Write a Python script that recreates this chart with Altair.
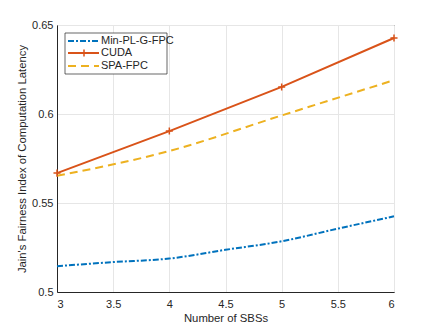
import altair as alt
import pandas as pd

# Data
min_x = [3, 3.5, 4, 4.5, 5, 5.5, 6]
min_y = [0.5145, 0.5168, 0.5188, 0.5237, 0.5285, 0.5356, 0.5425]
cuda_x = [3, 4, 5, 6]
cuda_y = [0.5668, 0.5904, 0.6152, 0.6427]
spa_x = [3, 4, 5, 6]
spa_y = [0.5653, 0.5792, 0.5992, 0.6190]

series = ["Min-PL-G-FPC", "CUDA", "SPA-FPC"]
colors = ["#0072BD", "#D95319", "#EDB120"]
x_ticks = [3, 3.5, 4, 4.5, 5, 5.5, 6]
y_ticks = [0.5, 0.55, 0.6, 0.65]

FONT = "Liberation Sans"
TXT = "#262626"

df_min = pd.DataFrame({"x": min_x, "y": min_y})
df_cuda = pd.DataFrame({"x": cuda_x, "y": cuda_y})
df_spa = pd.DataFrame({"x": spa_x, "y": spa_y})

xs = alt.Scale(domain=[3, 6], nice=False, zero=False)
ys = alt.Scale(domain=[0.5, 0.65], nice=False, zero=False)

xenc = alt.X("x:Q", scale=xs, title="Number of SBSs",
             axis=alt.Axis(values=x_ticks, format="~g", grid=True))
yenc = alt.Y("y:Q", scale=ys, title="Jain's Fairness Index of Computation Latency",
             axis=alt.Axis(values=y_ticks, format="~g", grid=True))

plus_path = "M-1,0L1,0M0,-1L0,1"

l_min = alt.Chart(df_min).mark_line(
    color=colors[0], strokeWidth=2, strokeDash=[6, 2, 2, 2], interpolate="monotone"
).encode(x=xenc, y=yenc)

l_spa = alt.Chart(df_spa).mark_line(
    color=colors[2], strokeWidth=2, strokeDash=[8, 5], interpolate="monotone"
).encode(x=xenc, y=yenc)

l_cuda = alt.Chart(df_cuda).mark_line(
    color=colors[1], strokeWidth=2
).encode(x=xenc, y=yenc)

p_cuda = alt.Chart(df_cuda).mark_point(
    shape=plus_path, color=colors[1], filled=False, strokeWidth=1.5, size=50, opacity=1
).encode(x=xenc, y=yenc)

# Legend (drawn manually inside the plot, top-left)
leg_df = pd.DataFrame({"s": [0]})
box = alt.Chart(leg_df).mark_rect(fill="white", stroke=TXT, strokeWidth=0.7).encode(
    x=alt.value(8), x2=alt.value(110), y=alt.value(8), y2=alt.value(49))

rows = [16, 28, 41]
dashes = [[6, 2, 2, 2], [1, 0], [8, 5]]
leg_layers = [box]
for i, name in enumerate(series):
    leg_layers.append(
        alt.Chart(leg_df).mark_rule(color=colors[i], strokeWidth=2, strokeDash=dashes[i]).encode(
            x=alt.value(11), x2=alt.value(42), y=alt.value(rows[i]))
    )
    leg_layers.append(
        alt.Chart(pd.DataFrame({"t": [name]})).mark_text(
            align="left", baseline="middle", font=FONT, fontSize=11, color=TXT
        ).encode(x=alt.value(44), y=alt.value(rows[i]), text="t:N")
    )
leg_layers.append(
    alt.Chart(leg_df).mark_point(shape=plus_path, color=colors[1], filled=False,
                                 strokeWidth=1.5, size=50, opacity=1).encode(
        x=alt.value(27), y=alt.value(rows[1]))
)

chart = alt.layer(l_min, l_spa, l_cuda, p_cuda, *leg_layers).properties(
    width=337, height=267,
    autosize=alt.AutoSizeParams(type="none"),
    padding={"left": 49, "top": 17, "right": 20, "bottom": 30},
).configure_view(
    stroke=TXT, strokeWidth=1
).configure_axis(
    labelFont=FONT, titleFont=FONT, labelFontSize=11, titleFontSize=11.3,
    labelColor=TXT, titleColor=TXT, domainColor=TXT, tickColor=TXT,
    gridColor="#e6e6e6", tickSize=0, titleFontWeight="normal", labelPadding=4,
).configure_axisX(titlePadding=3, labelPadding=6).configure_axisY(titlePadding=4)

chart.save("out.html", embed_options={"renderer": "svg", "actions": False})
